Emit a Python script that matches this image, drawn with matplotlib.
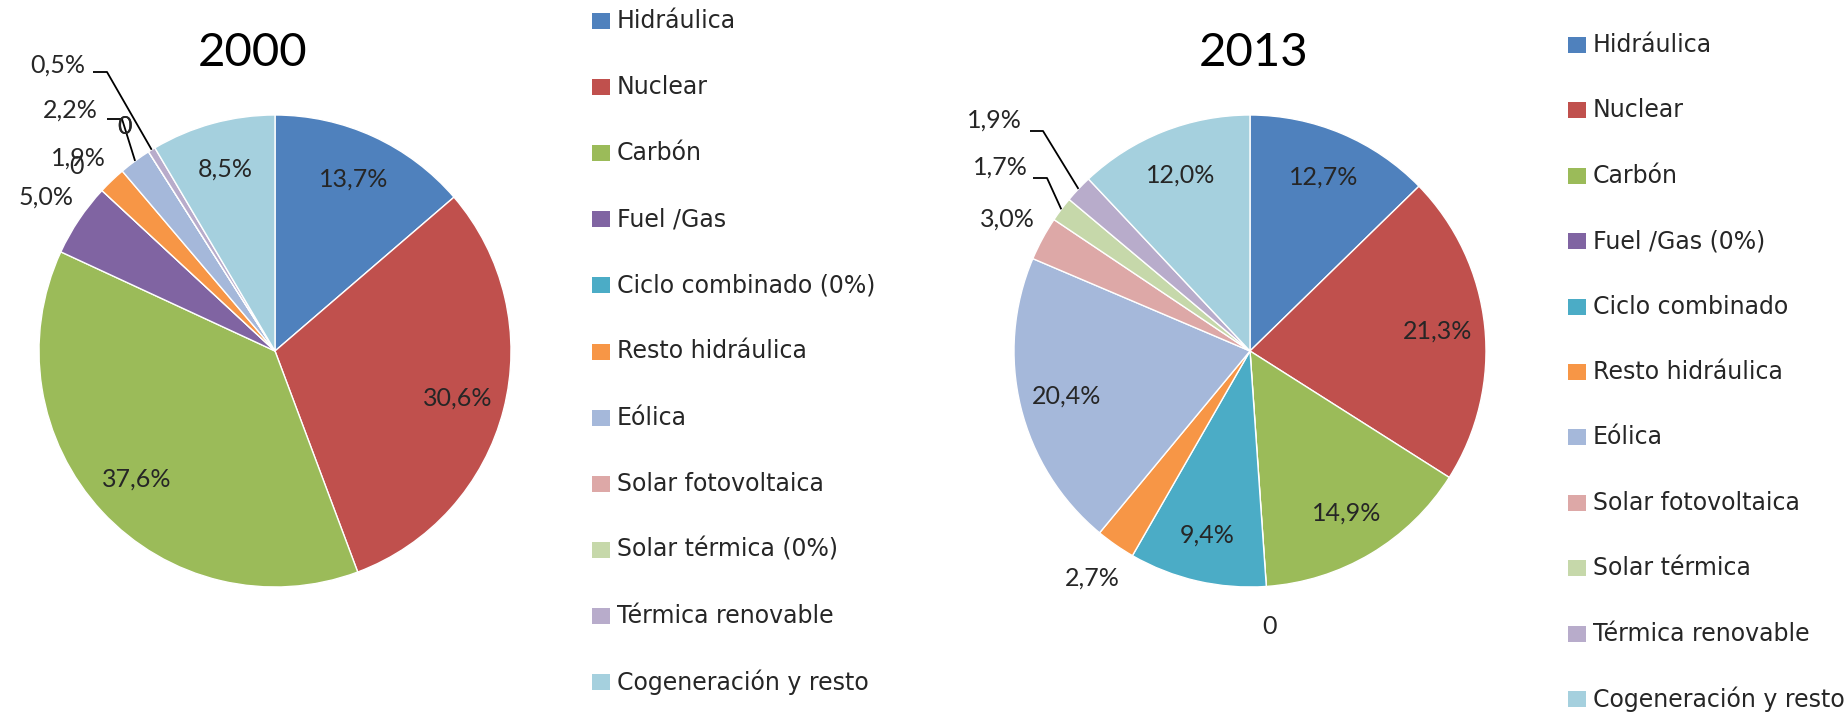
import numpy as np
import matplotlib
matplotlib.use("Agg")
import matplotlib.pyplot as plt
from matplotlib.patches import Rectangle

plt.rcParams['font.family'] = ['Lato', 'DejaVu Sans']

# Data
years = ['2000', '2013']
labels_2000 = ['Hidráulica', 'Nuclear', 'Carbón', 'Fuel /Gas', 'Ciclo combinado (0%)',
               'Resto hidráulica', 'Eólica', 'Solar fotovoltaica', 'Solar térmica (0%)',
               'Térmica renovable', 'Cogeneración y resto']
labels_2013 = ['Hidráulica', 'Nuclear', 'Carbón', 'Fuel /Gas (0%)', 'Ciclo combinado',
               'Resto hidráulica', 'Eólica', 'Solar fotovoltaica', 'Solar térmica',
               'Térmica renovable', 'Cogeneración y resto']
values_2000 = [13.7, 30.6, 37.6, 5.0, 0.0, 1.9, 2.2, 0.0, 0.0, 0.5, 8.5]
values_2013 = [12.7, 21.3, 14.9, 0.0, 9.4, 2.7, 20.4, 3.0, 1.7, 1.9, 12.0]
colors = ['#4F81BD', '#C0504D', '#9BBB59', '#8064A2', '#4BACC6', '#F79646',
          '#A5B8DA', '#DDA8A7', '#C6D8AA', '#B8ACCB', '#A5D0DE']

W, H = 1849, 715
R = 236


def fmt(v):
    if v == 0:
        return '0'
    return f'{v:.1f}'.replace('.', ',') + '%'


def mid_angles(vals):
    cum = np.cumsum([0] + list(vals))
    mids = (cum[:-1] + cum[1:]) / 2
    return np.deg2rad(90 - mids * 3.6)


def Y(py):
    return H - py


fig = plt.figure(figsize=(W / 100, H / 100), dpi=100)
ax = fig.add_axes([0, 0, 1, 1])

txt_col = '#262626'

# per-pie layout: center, explicit label spots for crowded slices, leader lines, legend
pies = [
    dict(vals=values_2000, legend=labels_2000, cx=275, cy=351, title_x=253,
         leg_x=592, leg_y0=21, leg_step=66.1,
         special={4: (77, 167), 5: (78, 158), 6: (70, 110), 7: (125, 127), 8: (125, 127), 9: (58, 65)},
         leaders={6: (107, 122, 119), 9: (93, 107, 72)}),
    dict(vals=values_2013, legend=labels_2013, cx=1250, cy=351, title_x=1254,
         leg_x=1568, leg_y0=45, leg_step=65.4,
         special={8: (1000, 167), 9: (994, 120)},
         leaders={8: (1033, 1047, 178), 9: (1030, 1043, 131)}),
]

for yr, p in zip(years, pies):
    vals = p['vals']
    ax.pie(vals, colors=colors, startangle=90, counterclock=False,
           center=(p['cx'], Y(p['cy'])), radius=R,
           wedgeprops=dict(edgecolor='white', linewidth=1.0))
    ang = mid_angles(vals)
    for i, v in enumerate(vals):
        if i in p['special']:
            px, py = p['special'][i]
            ax.text(px, Y(py), fmt(v), ha='center', va='center', fontsize=18, color=txt_col)
        else:
            d = 0.8 if v >= 8 else 1.17
            ax.text(p['cx'] + d * R * np.cos(ang[i]), Y(p['cy']) + d * R * np.sin(ang[i]),
                    fmt(v), ha='center', va='center', fontsize=18, color=txt_col)
    for i, (x0, x1, yl) in p['leaders'].items():
        ex = p['cx'] + R * np.cos(ang[i])
        ey = Y(p['cy']) + R * np.sin(ang[i])
        ax.plot([x0, x1, ex], [Y(yl), Y(yl), ey], color='black', lw=1.3, solid_capstyle='butt')

    ax.text(p['title_x'], Y(53), yr, ha='center', va='center', fontsize=34, color='black')

    # legend
    for i, name in enumerate(p['legend']):
        yc = p['leg_y0'] + i * p['leg_step']
        ax.add_patch(Rectangle((p['leg_x'], Y(yc) - 8), 18, 16, facecolor=colors[i], edgecolor='none'))
        ax.text(p['leg_x'] + 25, Y(yc), name, ha='left', va='center', fontsize=17,
                color=txt_col, family=['DejaVu Sans'])

ax.set_xlim(0, W)
ax.set_ylim(0, H)
ax.set_aspect('equal')
ax.axis('off')

fig.savefig('out.png', dpi=100, facecolor='white')
